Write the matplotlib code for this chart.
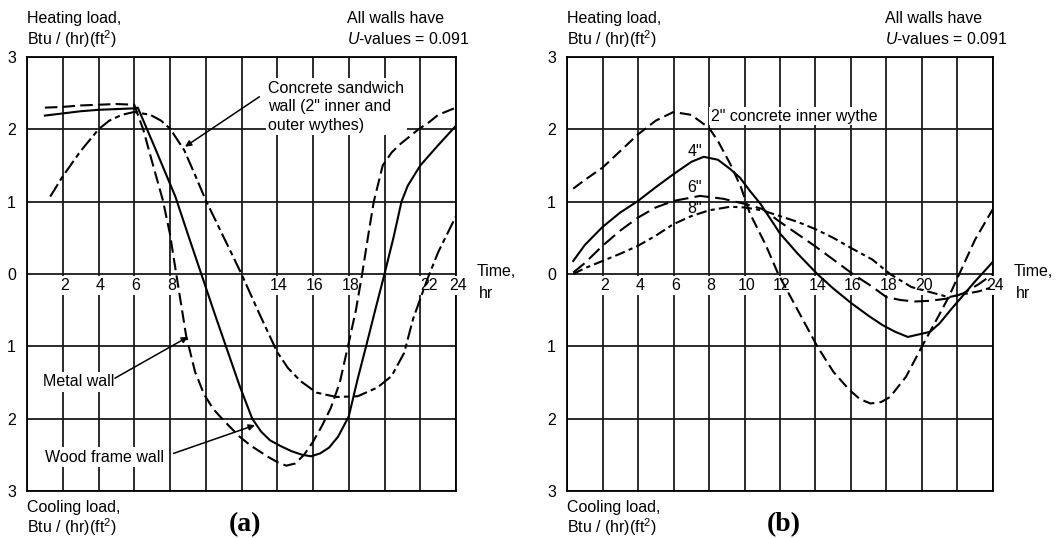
import numpy as np
import matplotlib.pyplot as plt

plt.rcParams['font.family'] = 'Liberation Sans'
plt.rcParams['mathtext.fontset'] = 'custom'
plt.rcParams['mathtext.rm'] = 'Liberation Sans'
plt.rcParams['mathtext.it'] = 'Liberation Sans:italic'

# ---- panel (a): wall types ----
metal_x = [1, 2, 3, 4, 5, 6, 6.5, 7, 7.6, 8, 8.35, 8.9, 9.4, 9.9, 10.4, 10.8, 11.3, 11.9, 12.5, 13.0,
           13.5, 14.0, 14.5, 15.0, 15.5, 16.0, 16.5, 17.0, 17.5, 18.0, 18.4, 18.75, 19.1, 19.4, 19.9,
           20.4, 20.9, 21.4, 21.9, 22.5, 23.0, 24]
metal_y = [2.3, 2.31, 2.33, 2.34, 2.35, 2.34, 2.0, 1.55, 1.02, 0.55, 0.0, -0.85, -1.35, -1.66, -1.86,
           -1.97, -2.1, -2.25, -2.37, -2.45, -2.53, -2.6, -2.65, -2.62, -2.5, -2.32, -2.1, -1.85, -1.5,
           -0.95, -0.5, 0.0, 0.55, 1.0, 1.5, 1.68, 1.8, 1.9, 2.0, 2.1, 2.2, 2.3]

wood_x = [1, 2, 3, 4, 5, 6, 6.2, 7.2, 8.3, 9.0, 9.75, 10.5, 11.2, 11.9, 12.6, 13.1, 13.6, 14.2, 14.8,
          15.4, 15.9, 16.4, 16.9, 17.4, 18.0, 18.5, 19.0, 19.5, 20.0, 20.5, 20.95, 21.3, 22.0, 23.0, 24]
wood_y = [2.19, 2.22, 2.25, 2.27, 2.28, 2.29, 2.3, 1.72, 1.07, 0.55, 0.0, -0.55, -1.05, -1.55, -2.0,
          -2.18, -2.3, -2.38, -2.45, -2.5, -2.52, -2.48, -2.4, -2.25, -1.97, -1.45, -0.97, -0.48, 0.0,
          0.5, 1.0, 1.22, 1.5, 1.78, 2.05]

conc_x = [1.3, 2, 3, 4, 4.6, 5.3, 6, 6.9, 7.5, 8, 8.8, 9.4, 10, 11, 12, 13, 14, 14.6, 15.3, 16.2, 17.3,
          18.5, 19.6, 20.4, 21.1, 21.6, 22.4, 23, 24]
conc_y = [1.07, 1.35, 1.7, 2.0, 2.12, 2.2, 2.24, 2.2, 2.12, 2.01, 1.71, 1.37, 1.02, 0.51, 0.0, -0.55,
          -1.08, -1.3, -1.48, -1.64, -1.7, -1.69, -1.57, -1.41, -1.09, -0.62, -0.07, 0.3, 0.8]

# ---- panel (b): concrete inner wythe thickness ----
in2_x = [0.35, 1, 2, 3, 4, 5, 6, 7, 8, 8.5, 9.2, 9.8, 10.3, 11.2, 11.9, 13, 14.1, 15, 15.9, 16.5, 17.1,
         17.7, 18.2, 19.1, 20.0, 21.0, 21.5, 22.1, 23.0, 24]
in2_y = [1.18, 1.3, 1.47, 1.7, 1.93, 2.12, 2.24, 2.2, 2.02, 1.84, 1.52, 1.2, 0.84, 0.4, 0.0, -0.5, -1.0,
         -1.35, -1.6, -1.73, -1.79, -1.77, -1.7, -1.42, -1.0, -0.55, -0.32, 0.0, 0.48, 0.9]

in4_x = [0.35, 1, 2, 3, 4, 5, 6, 7, 7.7, 8.5, 9.2, 9.75, 10.3, 10.9, 12, 13, 14.1, 15, 16, 17, 17.8,
         18.5, 19.2, 20.45, 21.0, 21.6, 22.3, 23, 24]
in4_y = [0.18, 0.4, 0.65, 0.85, 1.01, 1.2, 1.38, 1.55, 1.62, 1.58, 1.45, 1.33, 1.15, 0.97, 0.56, 0.28,
         0.0, -0.2, -0.4, -0.58, -0.71, -0.8, -0.87, -0.8, -0.68, -0.5, -0.3, -0.1, 0.17]

in6_x = [0.35, 1, 2, 3, 4, 5, 6, 7.5, 8.8, 10, 11, 12, 13, 14, 15, 16.1, 17.1, 18, 18.8, 19.6, 20.5,
         21.4, 22.3, 23.2, 24]
in6_y = [0.02, 0.15, 0.39, 0.6, 0.78, 0.92, 1.01, 1.08, 1.04, 0.97, 0.9, 0.72, 0.55, 0.38, 0.2, 0.0,
         -0.16, -0.32, -0.36, -0.38, -0.37, -0.34, -0.27, -0.14, 0.0]

in8_x = [0.35, 1, 2, 3, 4, 5, 6, 7, 8, 9.2, 10, 11, 12, 13, 14, 15, 16, 17.2, 18.2, 19.4, 20, 21.5,
         22.3, 23.2, 24]
in8_y = [0.0, 0.08, 0.18, 0.28, 0.39, 0.53, 0.69, 0.8, 0.88, 0.93, 0.92, 0.88, 0.8, 0.72, 0.62, 0.5,
         0.36, 0.2, 0.0, -0.18, -0.22, -0.32, -0.28, -0.24, -0.18]

hours_a = [2, 4, 6, 8, 14, 16, 18, 22, 24]
hours_b = [2, 4, 6, 8, 10, 12, 14, 16, 18, 20, 24]
load_ticks = [-3, -2, -1, 0, 1, 2, 3]

FS = 11.5
white = dict(boxstyle='square,pad=0.15', fc='white', ec='none')


def setup(ax, hours):
    ax.set_xlim(0, 24)
    ax.set_ylim(-3, 3)
    ax.set_xticks(np.arange(0, 25, 2))
    ax.set_yticks(load_ticks)
    ax.set_yticklabels([str(abs(v)) for v in load_ticks])
    ax.tick_params(length=0, labelbottom=False, labelsize=FS, pad=8)
    ax.grid(True, color='#1a1a1a', lw=1.3)
    ax.set_axisbelow(True)
    for s in ax.spines.values():
        s.set_linewidth(1.3)
    for h in hours:
        dx = 0.5 if h == 22 else 0.1
        ax.text(h + dx, -0.16, str(h), ha='center', va='center', fontsize=FS,
                bbox=dict(boxstyle='square,pad=0.1', fc='white', ec='none'), zorder=2.6)
    ax.text(0, 3.53, 'Heating load,', fontsize=FS, ha='left', va='center')
    ax.text(0, 3.25, 'Btu / (hr)(ft$^2$)', fontsize=FS, ha='left', va='center')
    ax.text(17.9, 3.53, 'All walls have', fontsize=FS, ha='left', va='center')
    ax.text(17.9, 3.25, '$\\mathit{U}$-values = 0.091', fontsize=FS, ha='left', va='center')
    ax.text(25.15, 0.03, 'Time,', fontsize=FS, ha='left', va='center')
    ax.text(25.7, -0.27, 'hr', fontsize=FS, ha='center', va='center')
    ax.text(0, -3.23, 'Cooling load,', fontsize=FS, ha='left', va='center')
    ax.text(0, -3.5, 'Btu / (hr)(ft$^2$)', fontsize=FS, ha='left', va='center')


fig = plt.figure(figsize=(10.63, 5.38), dpi=100)
ax_a = fig.add_axes([27 / 1063, 47 / 538, 429 / 1063, 434 / 538])
ax_b = fig.add_axes([567 / 1063, 47 / 538, 426 / 1063, 434 / 538])

# (a)
setup(ax_a, hours_a)
ax_a.plot(metal_x, metal_y, color='k', lw=1.5, ls=(0, (6, 2.5)), zorder=3)
ax_a.plot(wood_x, wood_y, color='k', lw=1.5, zorder=3)
ax_a.plot(conc_x, conc_y, color='k', lw=1.5, ls=(0, (7, 2, 2.5, 2)), zorder=3)

ax_a.text(13.5, 2.31, 'Concrete sandwich\nwall (2" inner and\nouter wythes)', fontsize=FS,
          ha='left', va='center', linespacing=1.3, bbox=white, zorder=2.6)
ax_a.text(0.9, -1.49, 'Metal wall', fontsize=FS, ha='left', va='center', bbox=white, zorder=2.6)
ax_a.text(1.0, -2.53, 'Wood frame wall', fontsize=FS, ha='left', va='center', bbox=white, zorder=2.6)
arrow = dict(arrowstyle='-|>', color='k', lw=1.1, mutation_scale=9, shrinkA=0, shrinkB=0)
ax_a.annotate('', xy=(8.84, 1.76), xytext=(13.0, 2.45), arrowprops=arrow, zorder=4)
ax_a.annotate('', xy=(9.0, -0.87), xytext=(4.92, -1.44), arrowprops=arrow, zorder=4)
ax_a.annotate('', xy=(12.75, -2.09), xytext=(8.2, -2.48), arrowprops=arrow, zorder=4)
ax_a.text(12.2, -3.47, '(a)', fontsize=20, fontweight='bold', family='Liberation Serif',
          ha='center', va='center')

# (b)
setup(ax_b, hours_b)
ax_b.plot(in2_x, in2_y, color='k', lw=1.5, ls=(0, (5.5, 2.5)), zorder=3)
ax_b.plot(in4_x, in4_y, color='k', lw=1.5, zorder=3)
ax_b.plot(in6_x, in6_y, color='k', lw=1.5, ls=(0, (7, 3)), zorder=3)
ax_b.plot(in8_x, in8_y, color='k', lw=1.5, ls=(0, (5, 2, 2, 2)), zorder=3)
ax_b.text(8.1, 2.18, '2" concrete inner wythe', fontsize=FS, ha='left', va='center',
          bbox=dict(boxstyle='square,pad=0.1', fc='white', ec='none'), zorder=2.6)
ax_b.text(6.8, 1.69, '4"', fontsize=FS, ha='left', va='center', zorder=2.6)
ax_b.text(6.76, 1.2, '6"', fontsize=FS, ha='left', va='center', zorder=2.6)
ax_b.text(6.76, 0.9, '8"', fontsize=FS, ha='left', va='center', zorder=2.6)
ax_b.text(12.2, -3.47, '(b)', fontsize=20, fontweight='bold', family='Liberation Serif',
          ha='center', va='center')

fig.savefig('out.png', dpi=100)
